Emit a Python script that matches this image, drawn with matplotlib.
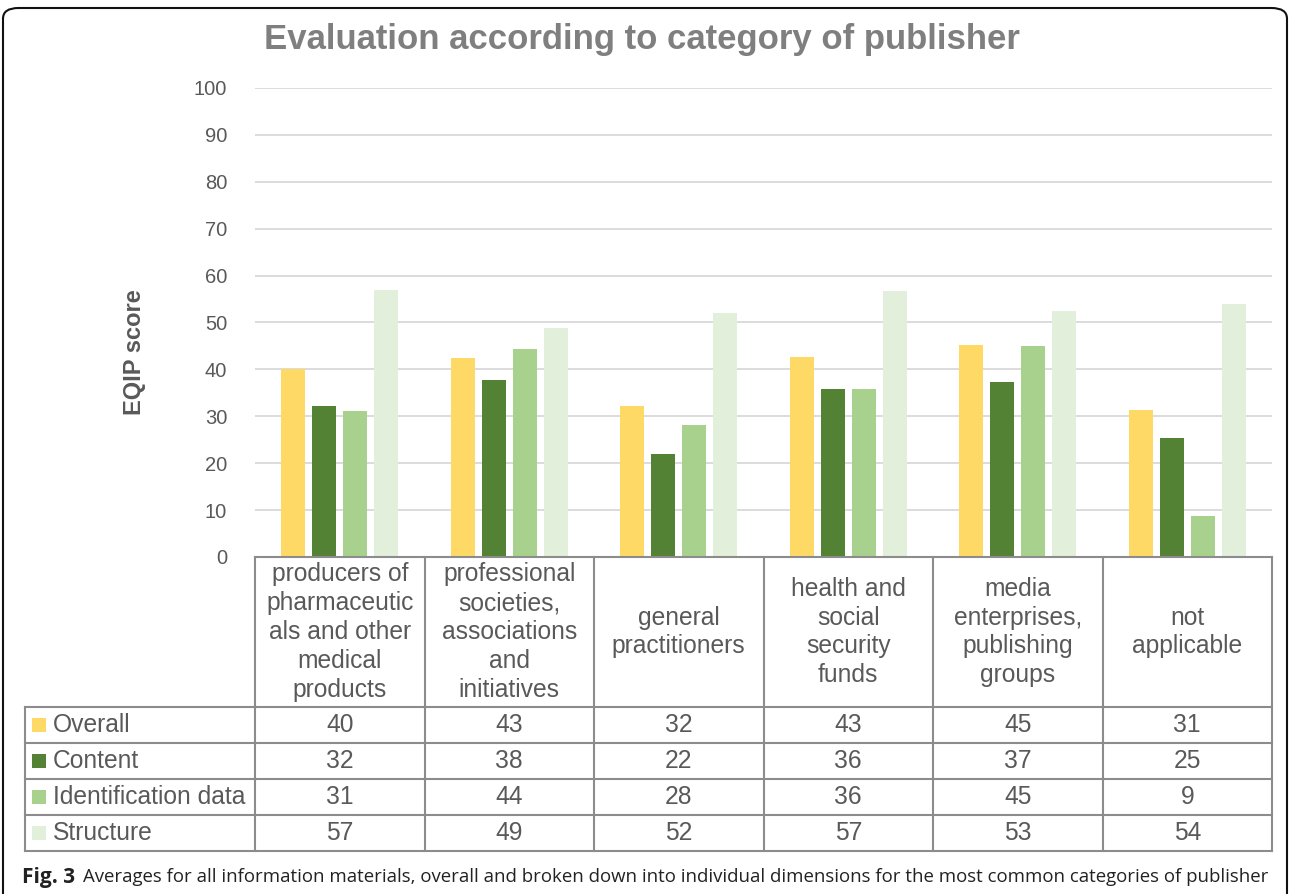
import matplotlib
matplotlib.use("Agg")
import matplotlib.pyplot as plt
from matplotlib.patches import Rectangle, FancyBboxPatch
import numpy as np

categories = [
    "producers of\npharmaceutic\nals and other\nmedical\nproducts",
    "professional\nsocieties,\nassociations\nand\ninitiatives",
    "general\npractitioners",
    "health and\nsocial\nsecurity\nfunds",
    "media\nenterprises,\npublishing\ngroups",
    "not\napplicable",
]
series_names = ["Overall", "Content", "Identification data", "Structure"]
overall = [40.1, 42.4, 32.2, 42.6, 45.2, 31.3]
content = [32.2, 37.7, 22.0, 35.8, 37.3, 25.4]
identification = [31.1, 44.3, 28.1, 35.8, 45.0, 8.7]
structure = [56.9, 48.8, 52.0, 56.7, 52.5, 53.9]
table_overall = [40, 43, 32, 43, 45, 31]
table_content = [32, 38, 22, 36, 37, 25]
table_identification = [31, 44, 28, 36, 45, 9]
table_structure = [57, 49, 52, 57, 53, 54]
yticks = [0, 10, 20, 30, 40, 50, 60, 70, 80, 90, 100]

series = [overall, content, identification, structure]
table_rows = [table_overall, table_content, table_identification, table_structure]
colors = ["#FFD966", "#548235", "#A9D18E", "#E2EFDA"]
text_col = "#595959"
line_col = "#8C8C8C"

W, H = 1290, 894
fig = plt.figure(figsize=(W / 100, H / 100), dpi=100)
plt.rcParams['font.family'] = ['Liberation Sans', 'DejaVu Sans']

ax_l, ax_r, ax_b, ax_t = 255, 1272, 557, 88
ax = fig.add_axes([ax_l / W, 1 - ax_b / H, (ax_r - ax_l) / W, (ax_b - ax_t) / H])
n = len(categories)
ax.set_xlim(-0.5, n - 0.5)
ax.set_ylim(0, 100)
x = np.arange(n)
offsets = [-0.274, -0.091, 0.091, 0.274]
bw = 0.142
for s, off, c in zip(series, offsets, colors):
    ax.bar(x + off, s, width=bw, color=c, zorder=3)
ax.set_yticks(yticks)
ax.set_yticklabels([str(t) for t in yticks], fontsize=14.5, color=text_col)
ax.tick_params(axis='y', length=0, pad=20)
ax.set_xticks([])
ax.grid(axis='y', color="#D9D9D9", linewidth=1.3, zorder=0)
for sp in ax.spines.values():
    sp.set_visible(False)

fig.text(134 / W, 1 - 352 / H, "EQIP score", rotation=90, ha='center', va='center',
         fontsize=17, fontweight='bold', color=text_col)

# table (data units: x in categories, y in score units)
px_x = (ax_r - ax_l) / n  # px per category
px_y = (ax_b - ax_t) / 100.0  # px per score unit
def ux(px):
    return px / px_x
def uy(px):
    return px / px_y

hdr_h = uy(150)
row_h = uy(36)
left_x = -0.5 - ux(230)
right_x = n - 0.5
kw = dict(color=line_col, linewidth=1.5, clip_on=False, zorder=5)
ax.plot([-0.5, right_x], [0, 0], **kw)
ax.plot([left_x, right_x], [-hdr_h, -hdr_h], **kw)
for i in range(4):
    yb = -hdr_h - (i + 1) * row_h
    ax.plot([left_x, right_x], [yb, yb], **kw)
bottom = -hdr_h - 4 * row_h
for i in range(n + 1):
    ax.plot([i - 0.5, i - 0.5], [0, bottom], **kw)
ax.plot([left_x, left_x], [-hdr_h, bottom], **kw)

fs_tab = 17.7
for i, cat in enumerate(categories):
    ax.text(i, -hdr_h / 2, cat, ha='center', va='center', fontsize=fs_tab,
            color=text_col, linespacing=1.26, clip_on=False)
for r, (name, vals, c) in enumerate(zip(series_names, table_rows, colors)):
    yc = -hdr_h - (r + 0.5) * row_h
    ax.add_patch(Rectangle((left_x + ux(7), yc - uy(7)), ux(14), uy(14),
                           facecolor=c, edgecolor='none', clip_on=False, zorder=6))
    ax.text(left_x + ux(28), yc, name, ha='left', va='center', fontsize=fs_tab,
            color=text_col, clip_on=False)
    for i, v in enumerate(vals):
        ax.text(i, yc, str(v), ha='center', va='center', fontsize=fs_tab,
                color=text_col, clip_on=False)

fig.text(642 / W, 1 - 39 / H, "Evaluation according to category of publisher",
         ha='center', va='center', fontsize=25, fontweight='bold', color="#7F7F7F")

# caption
fig.text(22 / W, 1 - 877 / H, "Fig. 3", ha='left', va='center', fontsize=15,
         fontweight='bold', color="#222222", family=['Open Sans', 'DejaVu Sans'])
fig.text(83 / W, 1 - 877 / H,
         "Averages for all information materials, overall and broken down into individual dimensions for the most common categories of publisher",
         ha='left', va='center', fontsize=13.4, color="#222222",
         family=['Open Sans', 'DejaVu Sans'])

border = FancyBboxPatch((3 / W, -0.05), 1284 / W, (1 - 8 / H) + 0.05,
                        boxstyle="round,pad=0,rounding_size=0.012",
                        transform=fig.transFigure, fill=False,
                        edgecolor="#111111", linewidth=1.5, clip_on=False)
fig.patches.append(border)

fig.savefig("out.png", dpi=100)
